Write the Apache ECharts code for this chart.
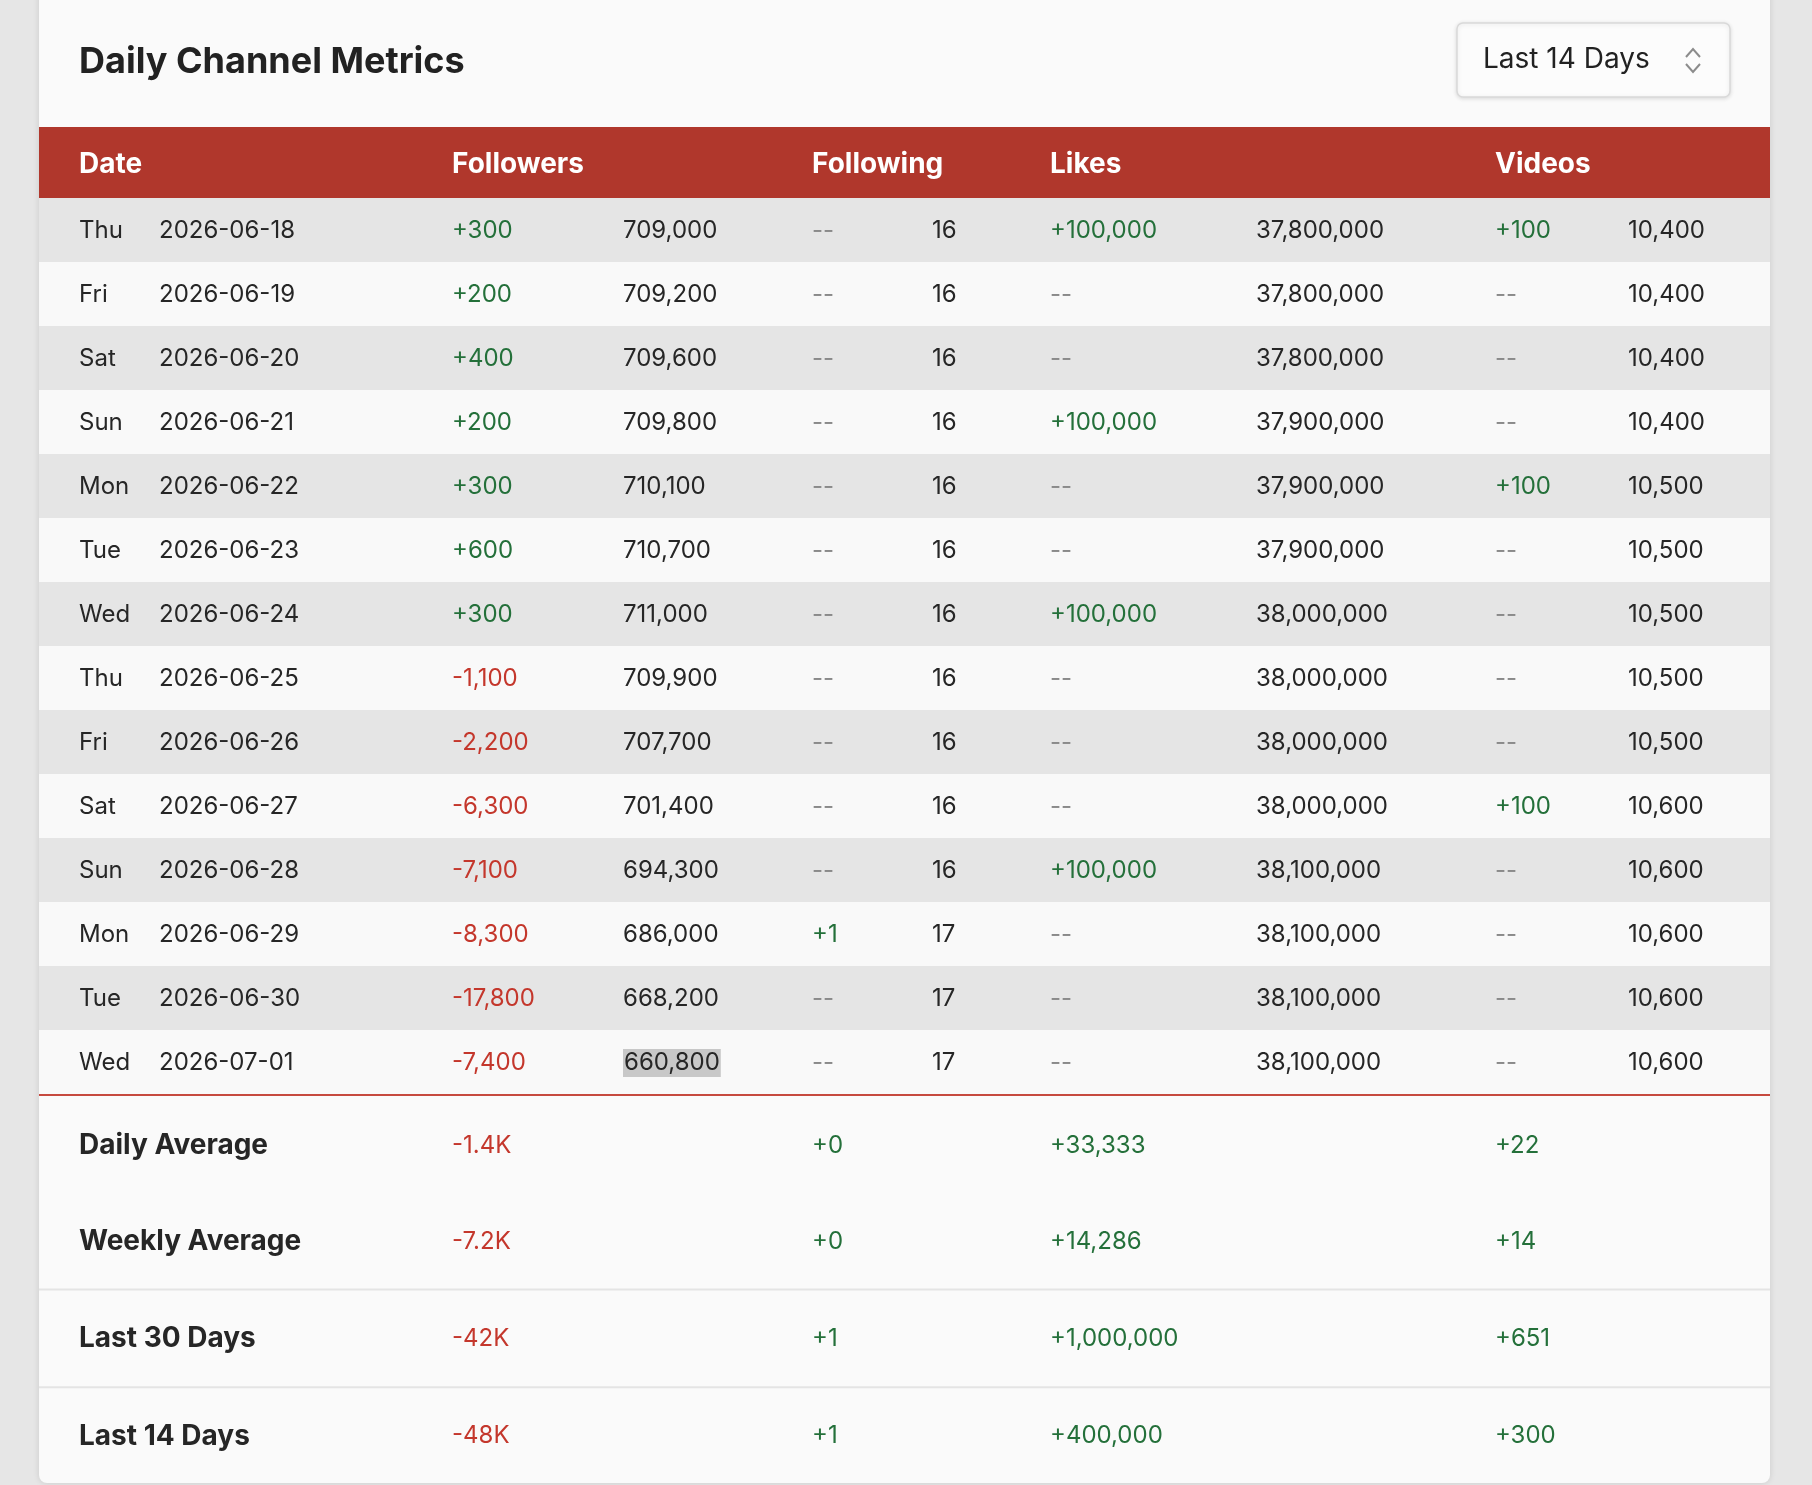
<!DOCTYPE html>
<html>
<head>
<meta charset="utf-8">
<title>Daily Channel Metrics</title>
<script src="https://cdn.jsdelivr.net/npm/echarts@6/dist/echarts.min.js"></script>
<style>
  html, body { margin: 0; padding: 0; background: #e6e6e6; }
  #main { width: 1812px; height: 1485px; }
</style>
</head>
<body>
<div id="main"></div>
<script>
// table data
var days = ['Thu', 'Fri', 'Sat', 'Sun', 'Mon', 'Tue', 'Wed', 'Thu', 'Fri', 'Sat', 'Sun', 'Mon', 'Tue', 'Wed'];
var dates = ['2026-06-18', '2026-06-19', '2026-06-20', '2026-06-21', '2026-06-22', '2026-06-23', '2026-06-24',
  '2026-06-25', '2026-06-26', '2026-06-27', '2026-06-28', '2026-06-29', '2026-06-30', '2026-07-01'];
var followersChange = [300, 200, 400, 200, 300, 600, 300, -1100, -2200, -6300, -7100, -8300, -17800, -7400];
var followers = [709000, 709200, 709600, 709800, 710100, 710700, 711000, 709900, 707700, 701400, 694300, 686000, 668200, 660800];
var followingChange = [0, 0, 0, 0, 0, 0, 0, 0, 0, 0, 0, 1, 0, 0];
var following = [16, 16, 16, 16, 16, 16, 16, 16, 16, 16, 16, 17, 17, 17];
var likesChange = [100000, 0, 0, 100000, 0, 0, 100000, 0, 0, 0, 100000, 0, 0, 0];
var likes = [37800000, 37800000, 37800000, 37900000, 37900000, 37900000, 38000000,
  38000000, 38000000, 38000000, 38100000, 38100000, 38100000, 38100000];
var videosChange = [100, 0, 0, 0, 100, 0, 0, 0, 0, 100, 0, 0, 0, 0];
var videos = [10400, 10400, 10400, 10400, 10500, 10500, 10500, 10500, 10500, 10600, 10600, 10600, 10600, 10600];

var headers = ['Date', 'Followers', 'Following', 'Likes', 'Videos'];

// summary block
var summaryLabels = ['Daily Average', 'Weekly Average', 'Last 30 Days', 'Last 14 Days'];
var summaryFollowers = [-1400, -7200, -42000, -48000];
var summaryFollowing = [0, 0, 1, 1];
var summaryLikes = [33333, 14286, 1000000, 400000];
var summaryVideos = [22, 14, 651, 300];

var rangeLabel = 'Last 14 Days';
var highlightRow = 13; // selected cell in the followers column

// layout (offsets from the card's left edge)
var CARD_L = 39, CARD_W = 1731;
var COL_X = [40, 120, 413, 584, 773, 893, 1011, 1217, 1456, 1589];
var HEAD_X = [40, 413, 773, 1011, 1456];
var SUM_SHIFT = [3, 1, 0, 0];
var FONT = 'Inter, "Noto Sans", sans-serif';
var GREEN = '#24703a', RED = '#c4372c', DASH = '#8a8a8a', INK = '#262626';

function fmt(n) {
  return n.toLocaleString('en-US');
}

function changeCell(n) {
  if (n === 0) return {text: '--', fill: DASH};
  return {text: (n > 0 ? '+' : '') + fmt(n), fill: n > 0 ? GREEN : RED};
}

function summaryCell(n, compact) {
  var s;
  if (compact && Math.abs(n) >= 1000) {
    s = (Math.abs(n) / 1000).toFixed(1).replace(/\.0$/, '') + 'K';
  } else {
    s = fmt(Math.abs(n));
  }
  if (n < 0) return {text: '-' + s, fill: RED};
  return {text: '+' + s, fill: GREEN};
}

function textEl(x, y, cell, font, extra) {
  var style = {
    text: cell.text,
    fill: cell.fill,
    font: font,
    align: 'left',
    verticalAlign: 'middle'
  };
  if (extra) {
    for (var k in extra) style[k] = extra[k];
  }
  return {type: 'text', x: x, y: y, style: style};
}

// one row of the daily table
function renderRow(params, api) {
  var i = api.value(0);
  var cs = params.coordSys;
  var y = api.coord([0, i])[1];
  var h = api.size([0, 1])[1];
  var font = '24px ' + FONT;
  var cells = [
    {text: days[i], fill: INK},
    {text: dates[i], fill: INK},
    changeCell(followersChange[i]),
    {text: fmt(followers[i]), fill: INK},
    changeCell(followingChange[i]),
    {text: String(following[i]), fill: INK},
    changeCell(likesChange[i]),
    {text: fmt(likes[i]), fill: INK},
    changeCell(videosChange[i]),
    {text: fmt(videos[i]), fill: INK}
  ];
  var children = [{
    type: 'rect',
    shape: {x: cs.x, y: y - h / 2, width: cs.width, height: h},
    style: {fill: i % 2 === 0 ? '#e5e5e5' : '#f9f9f9'}
  }];
  for (var c = 0; c < cells.length; c++) {
    var extra = null;
    if (i === highlightRow && c === 3) {
      extra = {backgroundColor: '#c8c8c8', padding: [3, 1, 1, 1]};
    }
    children.push(textEl(api.coord([COL_X[c], i])[0], y + 1, cells[c], font, extra));
  }
  return {type: 'group', children: children};
}

// summary rows under the table
function renderSummary(params, api) {
  var i = api.value(0);
  var cs = params.coordSys;
  var y = api.coord([0, i])[1];
  var h = api.size([0, 1])[1];
  var ty = y + SUM_SHIFT[i];
  var font = '24px ' + FONT;
  var children = [];
  if (i === 0) {
    children.push({type: 'rect', shape: {x: cs.x, y: y - h / 2, width: cs.width, height: 2}, style: {fill: '#c64a3f'}});
  } else if (i >= 2) {
    children.push({type: 'rect', shape: {x: cs.x, y: y - h / 2 - 1, width: cs.width, height: 2}, style: {fill: '#e4e4e4'}});
  }
  children.push(textEl(api.coord([COL_X[0], i])[0], ty, {text: summaryLabels[i], fill: INK}, 'bold 28px ' + FONT));
  children.push(textEl(api.coord([COL_X[2], i])[0], ty, summaryCell(summaryFollowers[i], true), font));
  children.push(textEl(api.coord([COL_X[4], i])[0], ty, summaryCell(summaryFollowing[i], false), font));
  children.push(textEl(api.coord([COL_X[6], i])[0], ty, summaryCell(summaryLikes[i], false), font));
  children.push(textEl(api.coord([COL_X[8], i])[0], ty, summaryCell(summaryVideos[i], false), font));
  return {type: 'group', children: children};
}

var chart = echarts.init(document.getElementById('main'), null, {renderer: 'canvas'});

var headerTexts = [];
for (var h = 0; h < headers.length; h++) {
  headerTexts.push({
    type: 'text',
    left: CARD_L + HEAD_X[h],
    top: 151,
    style: {text: headers[h], fill: '#ffffff', font: 'bold 28px ' + FONT}
  });
}

var rowIdx = dates.map(function (d, i) { return [i]; });
var sumIdx = summaryLabels.map(function (d, i) { return [i]; });

var option = {
  backgroundColor: '#e6e6e6',
  animation: false,
  grid: [
    {left: CARD_L, width: CARD_W, top: 198, height: 896},
    {left: CARD_L, width: CARD_W, top: 1094, height: 391}
  ],
  xAxis: [
    {type: 'value', gridIndex: 0, min: 0, max: CARD_W, show: false},
    {type: 'value', gridIndex: 1, min: 0, max: CARD_W, show: false}
  ],
  yAxis: [
    {type: 'category', gridIndex: 0, data: dates, inverse: true, show: false},
    {type: 'category', gridIndex: 1, data: summaryLabels, inverse: true, show: false}
  ],
  graphic: [
    {
      type: 'rect', z: -10,
      shape: {x: CARD_L, y: -20, width: CARD_W, height: 1503, r: 8},
      style: {fill: '#fafafa', shadowBlur: 6, shadowColor: 'rgba(0,0,0,0.12)'}
    },
    {
      type: 'text', left: 79, top: 44,
      style: {text: 'Daily Channel Metrics', fill: '#222222', font: 'bold 36px ' + FONT}
    },
    {
      type: 'rect',
      shape: {x: 1457, y: 23, width: 273, height: 74, r: 6},
      style: {fill: '#fcfcfc', stroke: '#d9d9d9', lineWidth: 1.5, shadowBlur: 4, shadowOffsetY: 1, shadowColor: 'rgba(0,0,0,0.12)'}
    },
    {
      type: 'text', left: 1483, top: 46,
      style: {text: rangeLabel, fill: '#222222', font: '28px ' + FONT}
    },
    {type: 'polyline', shape: {points: [[1686, 57], [1693, 49], [1700, 57]]}, style: {stroke: '#8c8c8c', lineWidth: 2, fill: null}},
    {type: 'polyline', shape: {points: [[1686, 64], [1693, 72], [1700, 64]]}, style: {stroke: '#8c8c8c', lineWidth: 2, fill: null}},
    {
      type: 'rect',
      shape: {x: CARD_L, y: 127, width: CARD_W, height: 71},
      style: {fill: '#b0372c'}
    }
  ].concat(headerTexts),
  series: [
    {
      type: 'custom',
      xAxisIndex: 0,
      yAxisIndex: 0,
      renderItem: renderRow,
      encode: {y: 0},
      data: rowIdx
    },
    {
      type: 'custom',
      xAxisIndex: 1,
      yAxisIndex: 1,
      renderItem: renderSummary,
      encode: {y: 0},
      data: sumIdx
    }
  ]
};

chart.setOption(option);
</script>
</body>
</html>
